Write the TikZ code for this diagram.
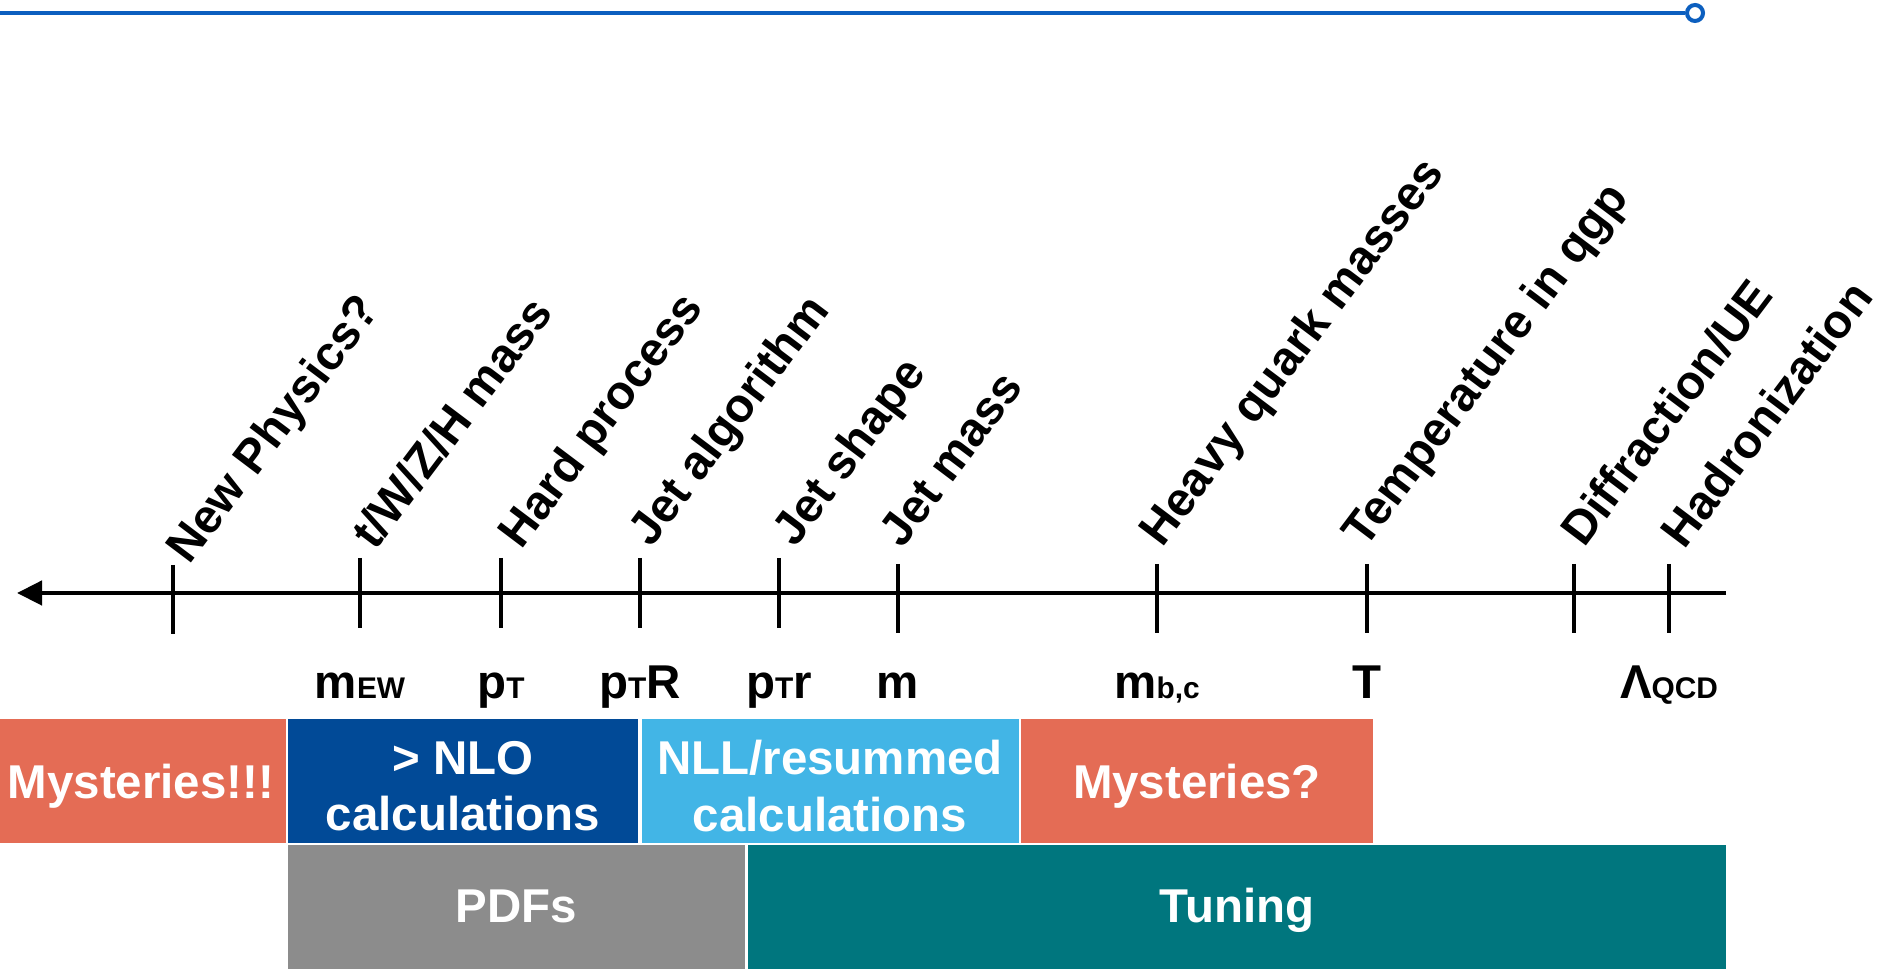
\documentclass[tikz,border=0pt]{standalone}
\usepackage{fontspec}
\setmainfont{Liberation Sans}
\usetikzlibrary{arrows.meta}
\definecolor{mystery}{HTML}{E46C55}
\definecolor{nlodark}{HTML}{014A97}
\definecolor{nlllight}{HTML}{42B5E6}
\definecolor{pdfgray}{HTML}{8C8C8C}
\definecolor{tuneteal}{HTML}{00767E}
\definecolor{topblue}{HTML}{0C5FBF}
\newcommand{\lowsub}[1]{{\fontsize{8.5}{10}\selectfont #1}}

\begin{document}
\begin{tikzpicture}[x=0.1mm, y=-0.1mm, font=\fontsize{13.5}{16}\selectfont\bfseries,
  scale label/.style={anchor=base west, rotate=53, inner sep=0pt},
  value label/.style={anchor=base, inner sep=0pt},
  box text/.style={text=white, align=center, inner sep=0pt}]
\useasboundingbox (0,0) rectangle (1883,973);

% Linha azul superior
\coordinate (lineL) at (0,13);
\node[circle, draw=topblue, fill=white, line width=0.4mm, minimum size=1.6mm, inner sep=0pt] (lineEnd) at (1695,13) {};
\draw[topblue, line width=0.4mm] (lineL) -- (lineEnd);

% Eixo de escalas
\coordinate (axisR) at (1726,593);
\coordinate (axisL) at (17,593);
\draw[line width=0.45mm, -{Triangle[length=2.5mm, width=2.4mm]}] (axisR) -- (axisL);
\foreach \x/\top/\bot in {173/565/634, 360/558/628, 501/558/628, 640/558/628, 779/558/628,
                          898/564/633, 1157/564/633, 1367/564/633, 1574/564/633, 1669/564/633}
  \draw[line width=0.35mm] (\x,\top) -- (\x,\bot);

% Rotulos inclinados
\node[scale label] (np) at (189,566) {New Physics?};
\node[scale label] (ewmass) at (375,552) {t/W/Z/H mass};
\node[scale label] (hard) at (521,551) {Hard process};
\node[scale label] (jetalgo) at (651,549) {Jet algorithm};
\node[scale label] (jetshape) at (795,549) {Jet shape};
\node[scale label] (jetmass) at (902,550) {Jet mass};
\node[scale label] (heavyq) at (1162,549) {Heavy quark masses};
\node[scale label] (temp) at (1365,550) {Temperature in qgp};
\node[scale label] (diffr) at (1584,549) {Diffraction/UE};
\node[scale label] (hadr) at (1684,551) {Hadronization};

% Escalas sob o eixo
\node[value label] (mew) at (360,699) {m\lowsub{EW}};
\node[value label] (pt) at (501,699) {p\lowsub{T}};
\node[value label] (ptR) at (640,699) {p\lowsub{T}R};
\node[value label] (ptr) at (779,699) {p\lowsub{T}r};
\node[value label] (mjet) at (898,699) {m};
\node[value label] (mbc) at (1157,699) {m\lowsub{b,c}};
\node[value label] (tqgp) at (1367,699) {T};
\node[value label] (lqcd) at (1669,699) {Λ\lowsub{QCD}};

% Primeira faixa
\fill[mystery] (0,719) rectangle (286,843);
\node[box text, anchor=base] (myst1) at (141,799) {Mysteries!!!};
\fill[nlodark] (288,719) rectangle (638,843);
\node[box text] (nlo) at (463,786) {> NLO\\calculations};
\fill[nlllight] (642,719) rectangle (1019,843);
\node[box text] (nll) at (830,786) {NLL/resummed\\calculations};
\fill[mystery] (1021,719) rectangle (1373,843);
\node[box text, anchor=base] (myst2) at (1197,799) {Mysteries?};

% Segunda faixa
\fill[pdfgray] (288,845) rectangle (745,969);
\node[box text, anchor=base] (pdfs) at (516,923) {PDFs};
\fill[tuneteal] (748,845) rectangle (1726,969);
\node[box text, anchor=base] (tune) at (1237,923) {Tuning};
\end{tikzpicture}
\end{document}
